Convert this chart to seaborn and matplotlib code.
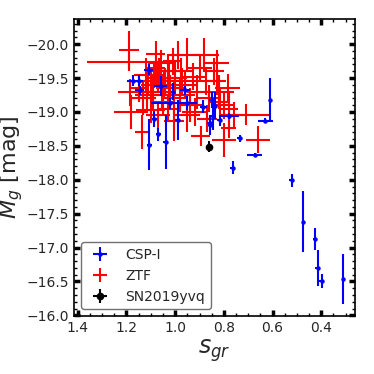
import numpy as np
import matplotlib
matplotlib.use('Agg')
import matplotlib.pyplot as plt
import seaborn as sns
import pandas as pd

#%% data
csp_s = [1.171, 1.147, 1.146, 1.109, 1.060, 1.085, 1.070, 1.107, 1.038, 1.023,
         1.009, 0.989, 0.960, 0.950, 0.884, 0.849, 0.837, 0.846, 0.858, 0.856,
         0.817, 0.779, 0.735, 0.764, 0.673, 0.630, 0.609, 0.522, 0.474, 0.426,
         0.414, 0.398, 0.311]
csp_s_err = [0.025, 0.015, 0.02, 0.02, 0.025, 0.01, 0.01, 0.01, 0.01, 0.075,
             0.01, 0.01, 0.02, 0.04, 0.015, 0.01, 0.01, 0.01, 0.01, 0.01,
             0.01, 0.04, 0.01, 0.01, 0.03, 0.03, 0.005, 0.01, 0.005, 0.01,
             0.01, 0.01, 0.005]
csp_M = [-19.46, -19.46, -19.32, -19.62, -19.38, -18.90, -18.67, -18.52, -18.56, -19.13,
         -19.30, -18.88, -19.32, -19.13, -19.08, -19.18, -19.09, -18.94, -18.84, -18.81,
         -18.88, -18.94, -18.61, -18.18, -18.37, -18.87, -19.18, -17.99, -17.38, -17.13,
         -16.70, -16.51, -16.54]
csp_M_err = [0.08, 0.08, 0.07, 0.08, 0.15, 0.12, 0.10, 0.38, 0.40, 0.08,
             0.13, 0.30, 0.07, 0.10, 0.10, 0.12, 0.20, 0.20, 0.10, 0.15,
             0.08, 0.05, 0.05, 0.10, 0.03, 0.04, 0.32, 0.10, 0.45, 0.16,
             0.27, 0.10, 0.37]

ztf_s = [1.19, 1.19, 1.185, 1.18, 1.135, 1.10, 1.12, 1.10, 1.09, 1.08,
         1.07, 1.06, 1.055, 1.05, 1.04, 1.03, 1.02, 1.01, 1.00, 0.99,
         0.98, 0.975, 0.96, 0.95, 0.94, 0.925, 0.91, 0.90, 0.88, 0.875,
         0.86, 0.83, 0.83, 0.82, 0.80, 0.785, 0.78, 0.71, 0.66, 0.80,
         0.895, 0.78, 1.005, 1.15, 1.13, 0.95, 0.87, 1.08, 1.03, 0.92,
         0.84, 1.07, 1.11, 1.095, 1.065, 1.045, 1.025, 1.115, 1.085, 1.005,
         0.97, 0.815, 0.76]
ztf_s_err = [0.04, 0.17, 0.05, 0.07, 0.03, 0.06, 0.05, 0.04, 0.06, 0.04,
             0.05, 0.05, 0.06, 0.05, 0.04, 0.05, 0.06, 0.04, 0.05, 0.04,
             0.06, 0.05, 0.05, 0.07, 0.05, 0.05, 0.04, 0.05, 0.06, 0.05,
             0.05, 0.05, 0.04, 0.06, 0.04, 0.05, 0.04, 0.10, 0.05, 0.05,
             0.04, 0.03, 0.04, 0.04, 0.05, 0.05, 0.04, 0.04, 0.04, 0.05,
             0.04, 0.05, 0.04, 0.05, 0.04, 0.05, 0.04, 0.05, 0.04, 0.05,
             0.04, 0.04, 0.04]
ztf_M = [-19.91, -19.73, -19.29, -19.00, -18.70, -19.03, -19.55, -19.40, -19.25, -19.65,
         -19.50, -19.72, -19.30, -19.15, -19.45, -19.60, -19.35, -19.75, -19.50, -19.84,
         -19.25, -19.60, -19.40, -19.84, -19.10, -19.52, -19.30, -19.65, -19.84, -19.45,
         -19.20, -19.72, -19.45, -19.30, -19.10, -19.36, -19.05, -18.96, -18.59, -18.59,
         -18.65, -18.76, -18.87, -19.35, -19.20, -18.95, -18.90, -19.85, -19.05, -19.00,
         -19.60, -18.95, -19.45, -19.30, -19.60, -19.40, -19.50, -19.25, -19.55, -19.20,
         -19.45, -19.15, -18.95]
ztf_M_err = [0.28, 0.12, 0.20, 0.25, 0.25, 0.20, 0.25, 0.20, 0.20, 0.25,
             0.20, 0.20, 0.25, 0.20, 0.20, 0.25, 0.20, 0.20, 0.25, 0.20,
             0.25, 0.20, 0.20, 0.25, 0.25, 0.20, 0.25, 0.20, 0.25, 0.20,
             0.20, 0.20, 0.20, 0.25, 0.20, 0.20, 0.25, 0.15, 0.20, 0.25,
             0.15, 0.15, 0.30, 0.20, 0.25, 0.25, 0.20, 0.20, 0.20, 0.20,
             0.20, 0.20, 0.20, 0.25, 0.20, 0.20, 0.25, 0.20, 0.20, 0.25,
             0.20, 0.20, 0.20]

yvq_s = [0.86]
yvq_s_err = [0.005]
yvq_M = [-18.49]
yvq_M_err = [0.08]

#%% style
sns.set_theme(style='ticks')
plt.rcParams['font.family'] = ['DejaVu Sans']
plt.rcParams['font.size'] = 10
plt.rcParams['xtick.direction'] = 'in'
plt.rcParams['ytick.direction'] = 'in'
plt.rcParams['xtick.top'] = True
plt.rcParams['ytick.right'] = True

fig, ax = plt.subplots(figsize=(3.74, 3.74), dpi=100)
fig.subplots_adjust(left=0.198, right=0.949, top=0.949, bottom=0.155)

ztf = ax.errorbar(ztf_s, ztf_M, xerr=ztf_s_err, yerr=ztf_M_err, fmt='none',
                  ecolor='red', elinewidth=1.5, capsize=0, zorder=2)
csp = ax.errorbar(csp_s, csp_M, xerr=csp_s_err, yerr=csp_M_err, fmt='o', ms=2.2,
                  color='blue', ecolor='blue', elinewidth=1.5, capsize=0, zorder=3)
yvq = ax.errorbar(yvq_s, yvq_M, xerr=yvq_s_err, yerr=yvq_M_err, fmt='o', ms=4.5,
                  color='black', ecolor='black', elinewidth=1.5, capsize=0, zorder=4)

ax.set_xlim(1.415, 0.262)
ax.set_ylim(-15.99, -20.37)
ax.set_xticks([1.4, 1.2, 1.0, 0.8, 0.6, 0.4])
ax.set_yticks([-20.0, -19.5, -19.0, -18.5, -18.0, -17.5, -17.0, -16.5, -16.0])
ax.xaxis.set_minor_locator(matplotlib.ticker.MultipleLocator(0.05))
ax.yaxis.set_minor_locator(matplotlib.ticker.MultipleLocator(0.1))
ax.tick_params(which='major', length=4, width=2.5, labelsize=10, color='black')
ax.tick_params(which='minor', length=2.5, width=1, color='black')
for s in ax.spines.values():
    s.set_linewidth(1.2)
    s.set_color('black')

ax.set_xlabel(r'$s_{gr}$', fontsize=17, labelpad=2)
ax.set_ylabel(r'$M_g$ [mag]', fontsize=16, labelpad=1)

leg = ax.legend([csp, ztf, yvq], ['CSP-I', 'ZTF', 'SN2019yvq'], loc='lower left',
                fontsize=10, frameon=True, fancybox=True, edgecolor='0.3')
leg.get_frame().set_linewidth(1.0)

plt.savefig('out.png', dpi=100)
